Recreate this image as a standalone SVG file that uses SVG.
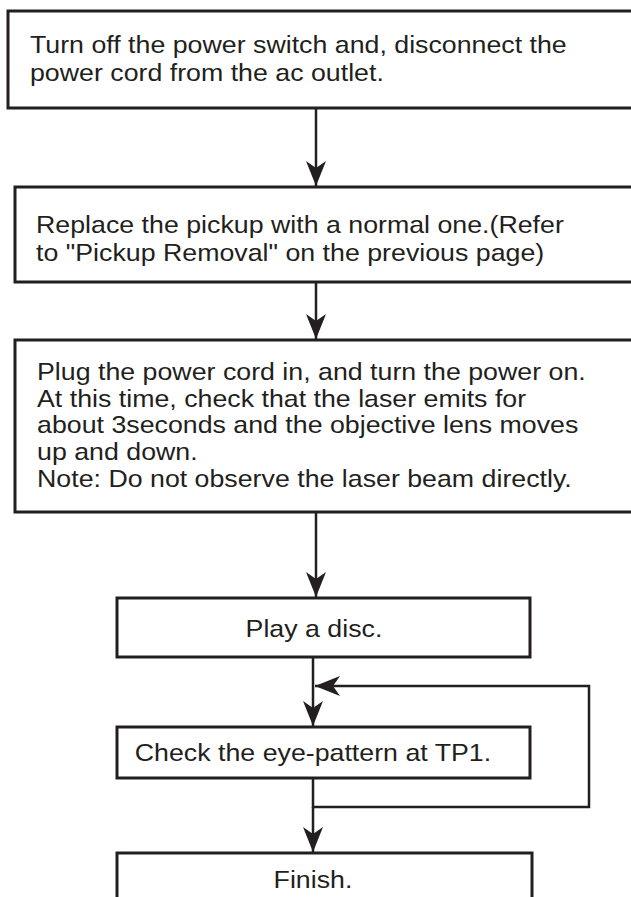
<svg xmlns="http://www.w3.org/2000/svg" width="631" height="897" viewBox="0 0 631 897">
<defs>
<style>
.box{fill:#fff;stroke:#231f20;stroke-width:3}
.t{font-family:"Liberation Sans",Arial,sans-serif;font-size:24px;fill:#231f20}
.c{text-anchor:middle}
.ln{fill:none;stroke:#231f20;stroke-width:2.5}
</style>
<marker id="ah" markerUnits="userSpaceOnUse" markerWidth="30" markerHeight="24" viewBox="-26 -12 28 24" refX="0" refY="0" orient="auto">
<path d="M0,0 L-25,-10 L-18,0 L-25,10 Z" fill="#231f20"/>
</marker>
</defs>
<rect width="631" height="897" fill="#fff"/>
<g id="n1">
<rect class="box" x="8" y="11" width="640" height="97"/>
<g transform="scale(1.115,1)">
<text class="t" x="26.9" y="53">Turn off the power switch and, disconnect the</text>
<text class="t" x="26.9" y="81">power cord from the ac outlet.</text>
</g>
</g>
<g id="n2">
<rect class="box" x="15" y="187" width="640" height="95"/>
<g transform="scale(1.115,1)">
<text class="t" x="32.3" y="233">Replace the pickup with a normal one.(Refer</text>
<text class="t" x="32.3" y="261">to "Pickup Removal" on the previous page)</text>
</g>
</g>
<g id="n3">
<rect class="box" x="15" y="340" width="640" height="172"/>
<g transform="scale(1.115,1)">
<text class="t" x="33.2" y="380">Plug the power cord in, and turn the power on.</text>
<text class="t" x="33.2" y="407">At this time, check that the laser emits for</text>
<text class="t" x="33.2" y="433">about 3seconds and the objective lens moves</text>
<text class="t" x="33.2" y="460">up and down.</text>
<text class="t" x="33.2" y="487">Note: Do not observe the laser beam directly.</text>
</g>
</g>
<g id="n4">
<rect class="box" x="117" y="598" width="413" height="59"/>
<text class="t c" x="281.6" y="637" transform="scale(1.115,1)">Play a disc.</text>
</g>
<g id="n5">
<rect class="box" x="117" y="727" width="413" height="51"/>
<text class="t c" x="280.7" y="761" transform="scale(1.115,1)">Check the eye-pattern at TP1.</text>
</g>
<g id="n6">
<rect class="box" x="117" y="853" width="415" height="60"/>
<text class="t c" x="280.7" y="888" transform="scale(1.115,1)">Finish.</text>
</g>
<g id="connectors">
<line class="ln" x1="316" y1="108" x2="316" y2="186" marker-end="url(#ah)"/>
<line class="ln" x1="316" y1="282" x2="316" y2="339" marker-end="url(#ah)"/>
<line class="ln" x1="316" y1="512" x2="316" y2="597" marker-end="url(#ah)"/>
<line class="ln" x1="313" y1="657" x2="313" y2="726" marker-end="url(#ah)"/>
<polyline class="ln" points="313,778 313,807 589,807 589,686 315,686" marker-end="url(#ah)"/>
<line class="ln" x1="313" y1="807" x2="313" y2="852" marker-end="url(#ah)"/>
</g>
</svg>
